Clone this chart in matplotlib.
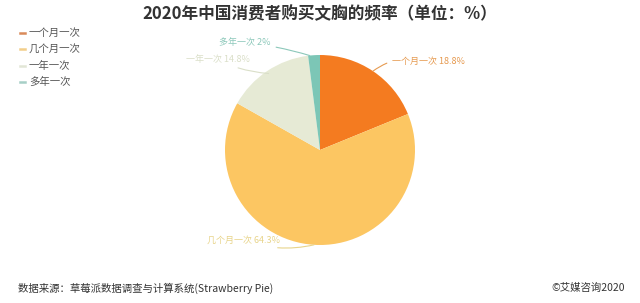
import numpy as np
import matplotlib
matplotlib.use("Agg")
import matplotlib.pyplot as plt

plt.rcParams['font.family'] = ['Noto Sans CJK SC', 'DejaVu Sans']

categories = ['一个月一次', '几个月一次', '一年一次', '多年一次']
values = [18.8, 64.3, 14.8, 2]
value_labels = ['18.8%', '64.3%', '14.8%', '2%']
colors = ['#F47B20', '#FCC662', '#E6EAD5', '#7CC6B6']
label_colors = ['#E69A50', '#E8D48A', '#DADFC8', '#8CC8BA']

W, H = 640, 303
fig = plt.figure(figsize=(W / 100, H / 100), dpi=100)

cx, cy, r = 320, 150, 95
ax = fig.add_axes([(cx - r) / W, (H - cy - r) / H, 2 * r / W, 2 * r / H])
wedges, _ = ax.pie(values, colors=colors, startangle=90, counterclock=False,
                   radius=1, wedgeprops=dict(linewidth=0))
ax.set_xlim(-1, 1)
ax.set_ylim(-1, 1)
ax.set_aspect('equal')
ax.axis('off')

# label text anchor positions (axes-data units) and alignment
label_pos = [(0.76, 0.93, 'left'), (-0.42, -0.95, 'right'),
             (-0.74, 0.95, 'right'), (-0.52, 1.13, 'right')]
rads = [0.25, 0.15, 0.1, -0.05]
for w, cat, vl, lc, (tx, ty, ha), rad in zip(wedges, categories, value_labels, label_colors, label_pos, rads):
    theta = np.deg2rad((w.theta1 + w.theta2) / 2)
    ex, ey = np.cos(theta), np.sin(theta)
    if cat == '多年一次':
        ex, ey = np.cos(np.deg2rad(w.theta2 - 1)), np.sin(np.deg2rad(w.theta2 - 1))
    if cat == '一年一次':
        ex, ey = 0.97 * ex, 0.97 * ey
    ax.annotate(f'{cat} {vl}', xy=(ex, ey), xytext=(tx, ty), ha=ha, va='center',
                fontsize=6.5, color=lc, annotation_clip=False,
                arrowprops=dict(arrowstyle='-', color=lc, lw=0.8,
                                connectionstyle=f'arc3,rad={rad}',
                                shrinkA=2, shrinkB=0))

fig.text(0.5, 1 - 14 / H, '2020年中国消费者购买文胸的频率（单位：%）', ha='center', va='center',
         fontsize=12, fontweight='bold', color='#333333')

legend_marker_colors = ['#D98A5A', '#F2CE8A', '#E2E6D6', '#A6CFC6']
for i, (cat, c) in enumerate(zip(categories, legend_marker_colors)):
    y = 1 - (33 + i * 16.3) / H
    fig.add_artist(plt.Line2D([20 / W, 25 / W], [y, y], color=c, lw=1.8, transform=fig.transFigure))
    fig.text(29 / W, y, cat, ha='left', va='center', fontsize=7.5, color='#555555')

fig.text(18 / W, 1 - 288 / H, '数据来源：草莓派数据调查与计算系统(Strawberry Pie)', ha='left', va='center',
         fontsize=7.5, color='#333333')
fig.text(625 / W, 1 - 288 / H, '©艾媒咨询2020', ha='right', va='center',
         fontsize=7.5, color='#333333')

fig.savefig('out.png', dpi=100, facecolor='white')
